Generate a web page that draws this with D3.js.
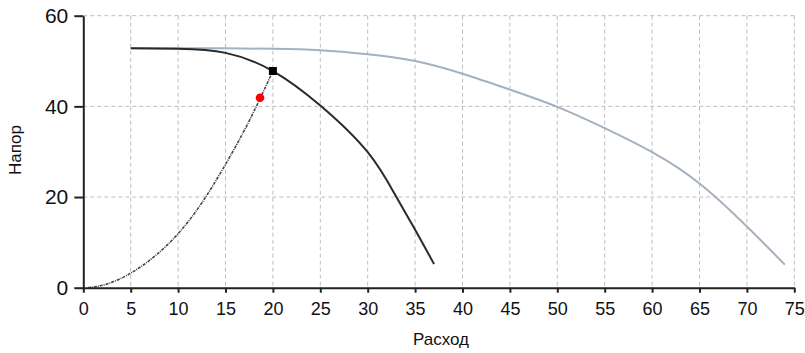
<!DOCTYPE html>
<html>
<head>
<meta charset="utf-8">
<script src="https://cdn.jsdelivr.net/npm/d3@7"></script>
<style>
  body { margin: 0; background: #fff; }
  text { font-family: "Liberation Sans", Arial, sans-serif; fill: #111; }
</style>
</head>
<body>
<div id="chart"></div>
<script>
// pump curve (black)
var pumpQ = [5, 10, 15, 20, 25, 30, 33, 35, 37];
var pumpH = [52.8, 52.7, 51.8, 47.8, 40.2, 29.9, 20.1, 12.8, 5.2];

// second pump curve (grey-blue)
var pump2Q = [5, 10, 15, 20, 25, 30, 35, 40, 45, 50, 55, 60, 65, 70, 74];
var pump2H = [52.8, 52.8, 52.8, 52.7, 52.4, 51.5, 50.0, 47.2, 43.7, 39.9, 35.2, 29.9, 23.0, 13.5, 5.1];

// system curve (dotted)
var systemQ = [0.5, 2.5, 5, 7.5, 10, 12.5, 15, 17.5, 20];
var systemH = [0, 0.8, 3.2, 6.9, 11.9, 18.7, 27.2, 36.8, 47.8];

// operating point and requested point
var workPoint = [20, 47.8];
var needPoint = [18.64, 41.9];

var xTicks = [0, 5, 10, 15, 20, 25, 30, 35, 40, 45, 50, 55, 60, 65, 70, 75];
var yTicks = [0, 20, 40, 60];

var W = 805, H = 353;
var plot = {left: 83.3, right: 794.3, top: 15.7, bottom: 287.7};

var svg = d3.select("#chart").append("svg")
    .attr("width", W)
    .attr("height", H);

var x = d3.scaleLinear().domain([0, 75]).range([plot.left, plot.right]);
var y = d3.scaleLinear().domain([0, 60]).range([plot.bottom, plot.top]);

function zip(a, b) {
  return a.map(function(v, i) { return [v, b[i]]; });
}

// grid
svg.append("g")
  .selectAll("line")
  .data(xTicks.slice(1))
  .enter().append("line")
    .attr("x1", function(d) { return x(d); })
    .attr("x2", function(d) { return x(d); })
    .attr("y1", plot.top)
    .attr("y2", plot.bottom)
    .attr("stroke", "#bdbdbd")
    .attr("stroke-dasharray", "4,3");

svg.append("g")
  .selectAll("line")
  .data(yTicks.slice(1))
  .enter().append("line")
    .attr("x1", plot.left)
    .attr("x2", plot.right)
    .attr("y1", function(d) { return y(d); })
    .attr("y2", function(d) { return y(d); })
    .attr("stroke", "#bdbdbd")
    .attr("stroke-dasharray", "4,3");

var line = d3.line()
  .x(function(d) { return x(d[0]); })
  .y(function(d) { return y(d[1]); })
  .curve(d3.curveNatural);

svg.append("path")
  .datum(zip(pump2Q, pump2H))
  .attr("d", line)
  .attr("fill", "none")
  .attr("stroke", "#a3b1c0")
  .attr("stroke-width", 2);

svg.append("path")
  .datum(zip(pumpQ, pumpH))
  .attr("d", line)
  .attr("fill", "none")
  .attr("stroke", "#2a2a2a")
  .attr("stroke-width", 2);

svg.append("path")
  .datum(zip(systemQ, systemH))
  .attr("d", line)
  .attr("fill", "none")
  .attr("stroke", "#444")
  .attr("stroke-width", 1.6)
  .attr("stroke-dasharray", "3,1,1,1");

// markers
svg.append("rect")
  .attr("x", x(workPoint[0]) - 4)
  .attr("y", y(workPoint[1]) - 4)
  .attr("width", 8)
  .attr("height", 8)
  .attr("fill", "#000");

svg.append("circle")
  .attr("cx", x(needPoint[0]))
  .attr("cy", y(needPoint[1]))
  .attr("r", 4.3)
  .attr("fill", "#ff0000");

// axes
var xAxis = svg.append("g")
  .attr("transform", "translate(0," + plot.bottom + ")")
  .call(d3.axisBottom(x).tickValues(xTicks).tickSize(5).tickPadding(10).tickSizeOuter(0));
xAxis.selectAll("text").style("font-size", "18px");

var yAxis = svg.append("g")
  .attr("transform", "translate(" + plot.left + ",0)")
  .call(d3.axisLeft(y).tickValues(yTicks).tickSize(9).tickPadding(6).tickSizeOuter(0));
yAxis.selectAll("text").style("font-size", "21px");

svg.selectAll(".domain, .tick line")
  .attr("stroke", "#222")
  .attr("stroke-width", 2);

// axis titles
svg.append("text")
  .attr("x", 441)
  .attr("y", 345)
  .attr("text-anchor", "middle")
  .style("font-size", "17px")
  .text("Расход");

svg.append("text")
  .attr("transform", "translate(21,150) rotate(-90)")
  .attr("text-anchor", "middle")
  .style("font-size", "17px")
  .text("Напор");
</script>
</body>
</html>
